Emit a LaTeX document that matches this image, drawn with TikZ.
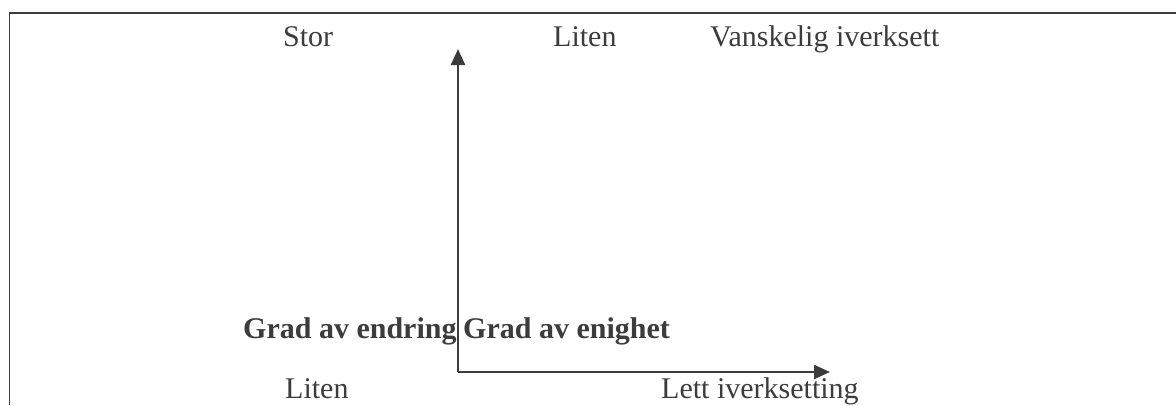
\documentclass[tikz,border=0pt]{standalone}
\usepackage{fontspec}
\setmainfont{Liberation Serif}
\usetikzlibrary{arrows.meta}
\definecolor{ink}{HTML}{3C3C3C}
\begin{document}
\begin{tikzpicture}[x=1pt,y=-1pt,
  lbl/.style={anchor=base west,inner sep=0pt,text=ink,font=\fontsize{30}{36}\selectfont},
  blbl/.style={lbl,font=\fontsize{30}{36}\selectfont\bfseries},
  frameline/.style={draw=ink,line width=1.8pt},
  axis/.style={draw=ink,line width=2.4pt,-{Triangle[length=16pt,width=14pt]}}]
\useasboundingbox (0,0) rectangle (1176,405);
\draw[frameline] (9.5,405) -- (9.5,13) -- (1176,13);
\node[lbl] (stor) at (283,46) {Stor};
\node[lbl] (litentop) at (553,46) {Liten};
\node[lbl] (vansk) at (710,46) {Vanskelig iverksett};
\node[blbl] (endring) at (243,338) {Grad av endring};
\node[blbl] (enighet) at (463,338) {Grad av enighet};
\node[lbl] (litenbot) at (285,398) {Liten};
\node[lbl] (lett) at (661,398) {Lett iverksetting};
\coordinate (o) at (458,372);
\coordinate (ytop) at (458,49);
\coordinate (xend) at (830,372);
\draw[axis] (o) -- (ytop);
\draw[axis] (o) -- (xend);
\end{tikzpicture}
\end{document}
